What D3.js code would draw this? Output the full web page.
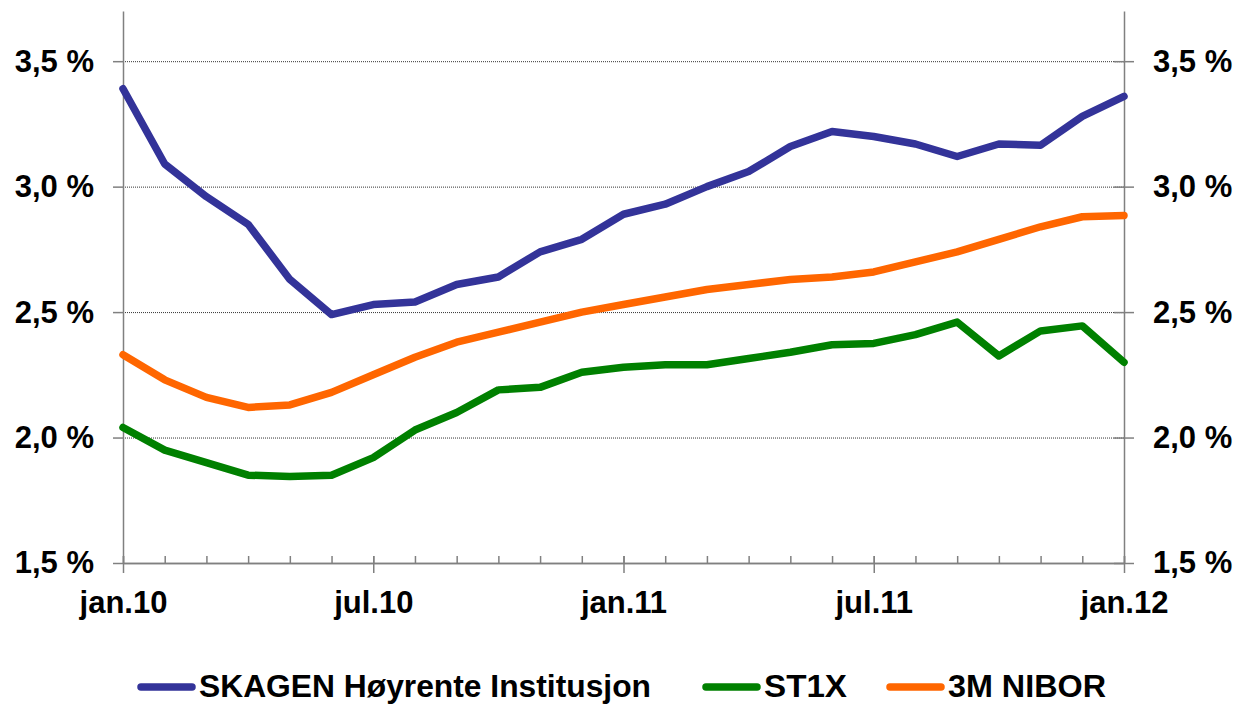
<!DOCTYPE html>
<html lang="no">
<head>
<meta charset="UTF-8">
<title>SKAGEN Høyrente Institusjon, ST1X og 3M NIBOR</title>
<script src="https://d3js.org/d3.v7.min.js"></script>
<style>
  html, body { margin: 0; padding: 0; background: #fff; }
  svg { display: block; font-family: "Liberation Sans", Arial, sans-serif; font-weight: bold; }
</style>
</head>
<body>
<svg id="chart" width="1236" height="704"></svg>
<script>
  // Monthly observations, jan 2010 - jan 2012
  const months = [
    "2010-01", "2010-02", "2010-03", "2010-04", "2010-05", "2010-06", "2010-07",
    "2010-08", "2010-09", "2010-10", "2010-11", "2010-12", "2011-01", "2011-02",
    "2011-03", "2011-04", "2011-05", "2011-06", "2011-07", "2011-08", "2011-09",
    "2011-10", "2011-11", "2011-12", "2012-01"
  ];
  const skagen = [3.39, 3.09, 2.96, 2.85, 2.63, 2.49, 2.53, 2.54, 2.61, 2.64, 2.74, 2.79, 2.89,
                  2.93, 3.00, 3.06, 3.16, 3.22, 3.20, 3.17, 3.12, 3.17, 3.165, 3.28, 3.36];
  const st1x = [2.04, 1.95, 1.90, 1.85, 1.845, 1.85, 1.92, 2.03, 2.10, 2.19, 2.20, 2.26, 2.28,
                2.29, 2.29, 2.315, 2.34, 2.37, 2.375, 2.41, 2.46, 2.325, 2.425, 2.445, 2.30];
  const nibor = [2.33, 2.23, 2.16, 2.12, 2.13, 2.18, 2.25, 2.32, 2.38, 2.42, 2.46, 2.50, 2.53,
                 2.56, 2.59, 2.61, 2.63, 2.64, 2.66, 2.70, 2.74, 2.79, 2.84, 2.88, 2.885];

  const seriesNames = ["SKAGEN Høyrente Institusjon", "ST1X", "3M NIBOR"];
  const seriesColors = ["#333399", "#008000", "#ff6600"];
  const yTicks = [1.5, 2.0, 2.5, 3.0, 3.5];
  const majorMonths = ["2010-01", "2010-07", "2011-01", "2011-07", "2012-01"];
  const xTickLabels = ["jan.10", "jul.10", "jan.11", "jul.11", "jan.12"];

  const series = [skagen, st1x, nibor].map((vals, i) => ({
    name: seriesNames[i], color: seriesColors[i], values: vals
  }));

  const svg = d3.select("#chart");
  const plotLeft = 123, plotRight = 1124, plotTop = 11, plotBottom = 563;
  const axisColor = "#808080";
  const fontSize = "31px";

  const x = d3.scalePoint().domain(months).range([plotLeft, plotRight]);
  const y = d3.scaleLinear().domain([1.5, 3.7]).range([plotBottom, plotTop]);

  // dotted gridlines
  svg.append("g").selectAll("line")
    .data(yTicks.filter(d => d > 1.5))
    .enter().append("line")
    .attr("x1", plotLeft).attr("x2", plotRight)
    .attr("y1", d => y(d) + 0.5).attr("y2", d => y(d) + 0.5)
    .attr("stroke", "#333")
    .attr("stroke-width", 1)
    .attr("stroke-dasharray", "1,1");

  const fmt = d => d3.format(".1f")(d).replace(".", ",") + " %";

  function styleAxis(g) {
    g.select(".domain").attr("stroke", axisColor).attr("stroke-width", 1.5);
    g.selectAll(".tick line").attr("stroke", axisColor).attr("stroke-width", 1.5);
    g.selectAll(".tick text")
      .attr("fill", "#000")
      .style("font-size", fontSize)
      .style("font-weight", "bold")
      .style("font-family", "'Liberation Sans', Arial, sans-serif");
  }

  // left axis
  svg.append("g")
    .attr("transform", `translate(${plotLeft},0)`)
    .call(d3.axisLeft(y).tickValues(yTicks).tickFormat(fmt).tickSize(10).tickSizeOuter(0).tickPadding(19))
    .call(styleAxis);

  // right axis, ticks crossing
  const rightAxis = svg.append("g")
    .attr("transform", `translate(${plotRight},0)`)
    .call(d3.axisRight(y).tickValues(yTicks).tickFormat(fmt).tickSize(10).tickSizeOuter(0).tickPadding(19))
    .call(styleAxis);
  rightAxis.selectAll(".tick line").attr("x1", -10);

  // bottom axis: monthly minor ticks inside
  svg.append("g")
    .attr("transform", `translate(0,${plotBottom})`)
    .call(d3.axisBottom(x).tickValues(months).tickSizeInner(-7).tickSizeOuter(0).tickFormat(""))
    .call(styleAxis);

  // bottom axis: half-year major ticks crossing, with labels
  const xAxis = svg.append("g")
    .attr("transform", `translate(0,${plotBottom})`)
    .call(d3.axisBottom(x).tickValues(majorMonths).tickSize(10).tickSizeOuter(0).tickPadding(18)
      .tickFormat((d, i) => xTickLabels[i]))
    .call(styleAxis);
  xAxis.selectAll(".tick line").attr("y1", -7);

  // series lines
  const line = d3.line()
    .x((d, i) => x(months[i]))
    .y(d => y(d));

  svg.append("g").selectAll("path")
    .data(series)
    .enter().append("path")
    .attr("d", d => line(d.values))
    .attr("fill", "none")
    .attr("stroke", d => d.color)
    .attr("stroke-width", 7.5)
    .attr("stroke-linejoin", "round")
    .attr("stroke-linecap", "round");

  // legend (text slightly condensed, as in the original)
  const legendX = [138, 703, 887];
  const legendTextWidth = [452, 83, 158];
  const legendY = 687;
  const legend = svg.append("g").selectAll("g")
    .data(series)
    .enter().append("g")
    .attr("transform", (d, i) => `translate(${legendX[i]},${legendY})`);

  legend.append("line")
    .attr("x1", 3).attr("x2", 54)
    .attr("stroke", d => d.color)
    .attr("stroke-width", 7.5)
    .attr("stroke-linecap", "round");

  legend.append("text")
    .attr("x", 61)
    .attr("y", 10)
    .attr("fill", "#000")
    .attr("textLength", (d, i) => legendTextWidth[i])
    .attr("lengthAdjust", "spacingAndGlyphs")
    .style("font-size", "32px")
    .text(d => d.name);
</script>
</body>
</html>
